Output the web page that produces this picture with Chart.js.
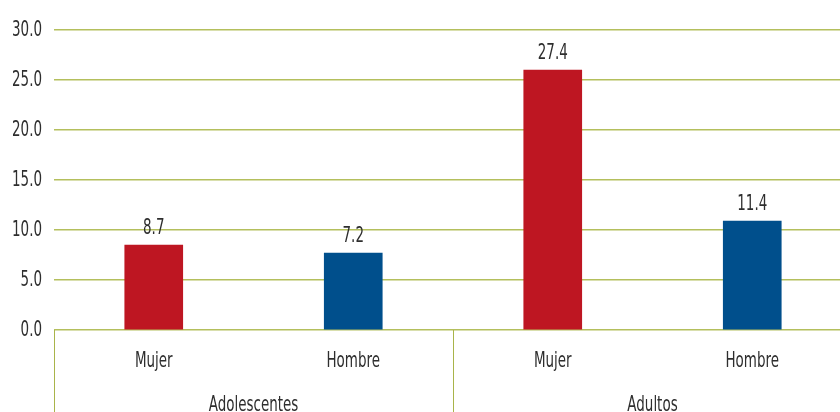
<!DOCTYPE html>
<html>
<head>
<meta charset="utf-8">
<script src="https://cdn.jsdelivr.net/npm/chart.js@4"></script>
<style>
  html, body { margin: 0; padding: 0; background: #fff; overflow: hidden; }
  #wrap { width: 852px; height: 412px; position: relative; }
</style>
</head>
<body>
<div id="wrap"><canvas id="grafico"></canvas></div>
<script>
// datos
const categorias = ['Mujer', 'Hombre', 'Mujer', 'Hombre'];
const grupos = ['Adolescentes', 'Adultos'];
const tamGrupo = [2, 2];
const valores = [8.5, 7.7, 26.0, 10.9];      // altura de las barras en el gráfico
const etiquetas = ['8.7', '7.2', '27.4', '11.4']; // texto sobre cada barra
const coloresBarra = ['#be1622', '#004f8c', '#be1622', '#004f8c'];
const ticksY = [0, 5, 10, 15, 20, 25, 30];

// fuente condensada: DejaVu Sans Condensed estrechada a mano
const fuente = "22px 'DejaVu Sans Condensed', sans-serif";
const estrecho = 0.68;
const colorTexto = '#2e2e2e';
const colorLinea = '#b4bf5c';

function texto(ctx, t, x, y, align) {
    ctx.save();
    ctx.translate(x, y);
    ctx.scale(estrecho, 1);
    ctx.textAlign = align;
    ctx.textBaseline = 'alphabetic';
    ctx.fillText(t, 0, 0);
    ctx.restore();
}

// etiquetas de ejes, valores sobre las barras y ejes de grupo
const extras = {
    id: 'extras',
    afterDatasetsDraw(chart) {
        const ctx = chart.ctx;
        const meta = chart.getDatasetMeta(0);
        ctx.save();
        ctx.font = fuente;
        ctx.fillStyle = colorTexto;
        meta.data.forEach((bar, i) => {
            texto(ctx, etiquetas[i], bar.x, bar.y - 11, 'center');
        });
        ctx.restore();
    },
    afterDraw(chart) {
        const ctx = chart.ctx;
        const x = chart.scales.x;
        const y = chart.scales.y;
        const ancho = (x.right - x.left) / categorias.length;
        const base = chart.chartArea.bottom;
        ctx.save();
        ctx.font = fuente;
        ctx.fillStyle = colorTexto;

        ticksY.forEach(v => {
            texto(ctx, v.toFixed(1), 42, y.getPixelForValue(v) + 6, 'right');
        });
        categorias.forEach((c, i) => {
            texto(ctx, c, x.getPixelForValue(i), base + 37, 'center');
        });

        ctx.strokeStyle = '#a9b44a';
        ctx.lineWidth = 1;
        let inicio = 0;
        grupos.forEach((g, k) => {
            const izq = x.left + inicio * ancho;
            const der = izq + tamGrupo[k] * ancho;
            const lx = Math.round(izq) + 0.5;
            ctx.beginPath();
            ctx.moveTo(lx, base);
            ctx.lineTo(lx, chart.height);
            ctx.stroke();
            texto(ctx, g, (izq + der) / 2, 411, 'center');
            inicio += tamGrupo[k];
        });
        ctx.restore();
    }
};

const ctxGrafico = document.getElementById('grafico').getContext('2d');
new Chart(ctxGrafico, {
    type: 'bar',
    data: {
        labels: categorias,
        datasets: [{
            data: valores,
            backgroundColor: coloresBarra,
            barThickness: 58
        }]
    },
    options: {
        responsive: true,
        maintainAspectRatio: false,
        animation: false,
        layout: { padding: { top: 30, right: 0, left: 0, bottom: 0 } },
        plugins: {
            legend: { display: false },
            tooltip: { enabled: false }
        },
        scales: {
            x: {
                afterFit(scale) { scale.height = 82; },
                grid: { display: false },
                border: { display: false },
                ticks: { display: false }
            },
            y: {
                min: 0,
                max: 30,
                afterFit(scale) { scale.width = 54; },
                afterBuildTicks(scale) {
                    scale.ticks = ticksY.map(v => ({ value: v }));
                },
                border: { display: false },
                grid: {
                    color: colorLinea,
                    lineWidth: 1.5,
                    drawTicks: false
                },
                ticks: { display: false }
            }
        }
    },
    plugins: [extras]
});
</script>
</body>
</html>
